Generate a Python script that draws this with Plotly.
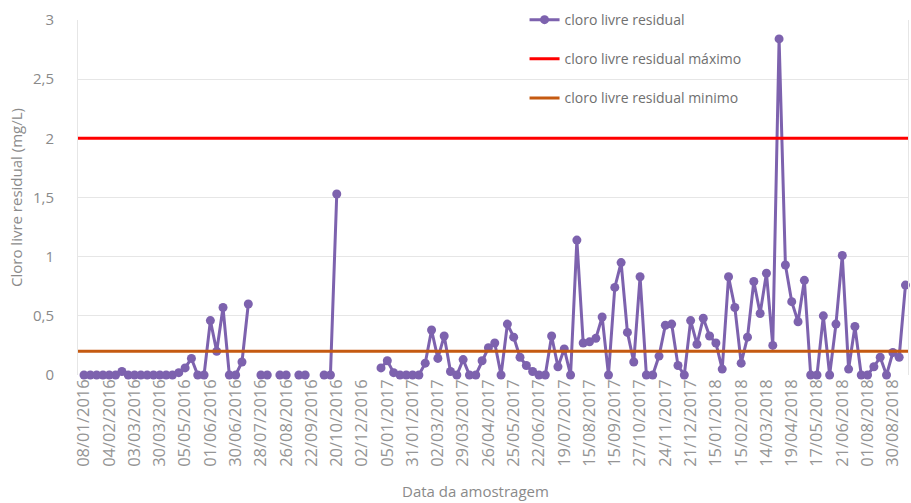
import plotly.graph_objects as go

# ---- data ----
residual_chlorine = [
    0, 0, 0, 0, 0, 0, 0.03, 0, 0, 0, 0, 0, 0, 0, 0, 0.02, 0.06, 0.14, 0, 0,
    0.46, 0.2, 0.57, 0, 0, 0.11, 0.6, None, 0, 0, None, 0, 0, None, 0, 0, None, None, 0, 0,
    1.53, None, None, None, None, None, None, 0.06, 0.12, 0.02, 0, 0, 0, 0, 0.1, 0.38, 0.14, 0.33, 0.03, 0,
    0.13, 0, 0, 0.12, 0.23, 0.27, 0, 0.43, 0.32, 0.15, 0.08, 0.03, 0, 0, 0.33, 0.07, 0.22, 0, 1.14, 0.27,
    0.28, 0.31, 0.49, 0, 0.74, 0.95, 0.36, 0.11, 0.83, 0, 0, 0.16, 0.42, 0.43, 0.08, 0, 0.46, 0.26, 0.48, 0.33,
    0.27, 0.05, 0.83, 0.57, 0.1, 0.32, 0.79, 0.52, 0.86, 0.25, 2.84, 0.93, 0.62, 0.45, 0.8, 0, 0, 0.5, 0, 0.43,
    1.01, 0.05, 0.41, 0, 0, 0.07, 0.15, 0, 0.19, 0.15, 0.76,
]
max_limit = 2.0
min_limit = 0.2
tick_labels = [
    "08/01/2016", "04/02/2016", "03/03/2016", "30/03/2016", "05/05/2016", "01/06/2016",
    "30/06/2016", "28/07/2016", "26/08/2016", "22/09/2016", "20/10/2016", "02/12/2016",
    "05/01/2017", "31/01/2017", "02/03/2017", "29/03/2017", "26/04/2017", "25/05/2017",
    "22/06/2017", "19/07/2017", "15/08/2017", "15/09/2017", "27/10/2017", "24/11/2017",
    "21/12/2017", "15/01/2018", "15/02/2018", "14/03/2018", "19/04/2018", "17/05/2018",
    "21/06/2018", "01/08/2018", "30/08/2018",
]
label_every = 4
names = ["cloro livre residual", "cloro livre residual máximo", "cloro livre residual minimo"]
x_title = "Data da amostragem"
y_title = "Cloro livre residual (mg/L)"

sample_index = list(range(len(residual_chlorine)))
span = [sample_index[0] - 2, sample_index[-1] + 2]

FONT = "Open Sans"
GRAY = "#8a8a8a"

fig = go.Figure()
fig.add_trace(go.Scatter(
    x=sample_index, y=residual_chlorine, name=names[0], mode="lines+markers",
    line=dict(color="#7d62ae", width=3), marker=dict(color="#7d62ae", size=9),
    connectgaps=False, legendgroup="a", cliponaxis=False,
))
fig.add_trace(go.Scatter(
    x=span, y=[max_limit, max_limit], name=names[1], mode="lines",
    line=dict(color="#ff0000", width=3), legendgroup="b",
))
fig.add_trace(go.Scatter(
    x=span, y=[min_limit, min_limit], name=names[2], mode="lines",
    line=dict(color="#c55a11", width=3), legendgroup="c",
))

fig.update_layout(
    width=911, height=503,
    margin=dict(l=78, r=3, t=20, b=128, autoexpand=False),
    paper_bgcolor="white", plot_bgcolor="white",
    separators=",.",
    font=dict(family=FONT, color=GRAY),
    legend=dict(
        x=0.538, y=1.045, xanchor="left", yanchor="top",
        traceorder="grouped", tracegroupgap=18,
        font=dict(family=FONT, size=14, color="#707070"),
        bgcolor="rgba(0,0,0,0)",
    ),
    showlegend=True,
    annotations=[dict(
        text=x_title, xref="paper", yref="paper", x=0.4795, y=-0.328,
        xanchor="center", yanchor="middle", showarrow=False,
        font=dict(family=FONT, size=15, color=GRAY),
    )],
)
fig.update_xaxes(
    automargin=False,
    range=[-0.95, 130.4],
    tickmode="array",
    tickvals=sample_index[::label_every],
    ticktext=tick_labels,
    tickangle=-90,
    tickfont=dict(family=FONT, size=16.5, color="#959595"),
    showgrid=False, zeroline=False, showline=False, ticks="",
)
fig.update_yaxes(
    automargin=False,
    range=[0, 3], dtick=0.5,
    tickfont=dict(family=FONT, size=15, color=GRAY),
    showgrid=True, gridcolor="#e6e6e6", gridwidth=1,
    zeroline=False, showline=True, linecolor="#e6e6e6", mirror=True,
    ticklabelstandoff=20,
    title=dict(text=y_title, font=dict(family=FONT, size=15, color=GRAY), standoff=6),
)

fig.write_html(
    "out.html",
    config={"displayModeBar": False},
    post_script="document.body.style.margin='0';document.body.style.overflow='hidden';",
)
